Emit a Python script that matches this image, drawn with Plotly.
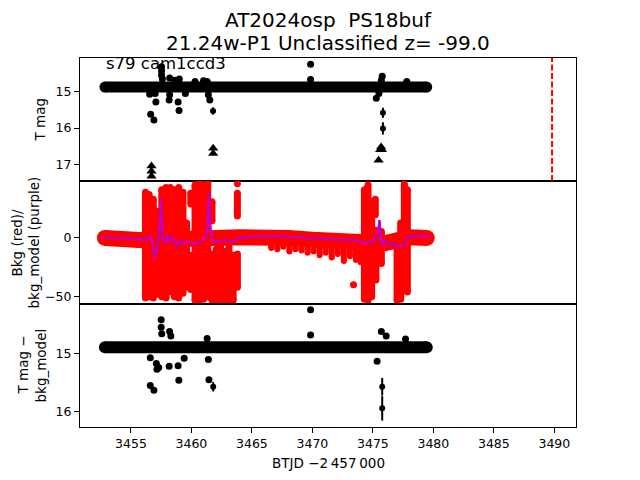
import plotly.graph_objects as go
from plotly.subplots import make_subplots

# ---------------- data ----------------
# top panel: T mag
band_t = [3452.85, 3454.0, 3455.5, 3456.5, 3457.5, 3458.5, 3459.5, 3460.5, 3461.5, 3462.5,
          3464.0, 3466.0, 3468.0, 3470.0, 3472.0, 3474.0, 3475.5, 3476.5, 3478.0, 3479.45]
band_mag = [14.87, 14.87, 14.87, 14.89, 14.86, 14.87, 14.87, 14.88, 14.87, 14.87,
            14.87, 14.88, 14.87, 14.87, 14.88, 14.87, 14.88, 14.87, 14.87, 14.87]

pt_t = [3456.55, 3456.63, 3456.9, 3457.06, 3457.0, 3457.53, 3457.53, 3457.53, 3457.6, 3458.2,
        3458.16, 3458.2, 3458.6, 3459.0, 3458.9, 3458.98, 3459.5, 3460.3, 3461.0, 3461.3,
        3461.4, 3461.52, 3469.85, 3469.85, 3475.28, 3475.77, 3475.7, 3475.5, 3477.8]
pt_mag = [15.07, 15.62, 15.78, 15.28, 15.05, 14.31, 14.42, 14.54, 14.65, 14.62,
          15.23, 15.08, 14.68, 14.65, 15.28, 15.52, 15.05, 14.72, 14.70, 14.72,
          15.08, 15.23, 14.24, 14.66, 15.18, 14.57, 14.68, 15.05, 14.72]

err_t = [3461.79, 3475.83, 3475.83]
err_mag = [15.53, 15.58, 16.01]
err_sig = [0.10, 0.14, 0.17]

lim_t = [3456.7, 3456.7, 3456.7, 3461.8, 3461.8, 3475.6, 3475.75, 3475.68, 3475.47]
lim_mag = [17.05, 17.19, 17.33, 16.56, 16.70, 16.60, 16.60, 16.52, 16.89]

disc_t = 3489.81

# middle panel: background
bkg_band_t = [3452.85, 3454.0, 3455.5, 3456.0, 3464.0, 3466.0, 3468.0, 3470.0, 3471.5,
              3473.0, 3474.2, 3476.0, 3478.0, 3479.45]
bkg_band_v = [-0.5, -1.0, -2.0, -2.5, 0.0, 0.5, -0.5, -2.0, -3.0,
              -4.0, -5.0, -5.0, 0.0, -0.5]

col_t = [3456.2, 3456.5, 3456.85, 3456.85, 3457.2, 3457.55, 3457.9, 3458.25, 3458.6, 3458.95,
         3459.3, 3459.6, 3459.95, 3459.95, 3460.3, 3460.65, 3461.0, 3461.35, 3461.7, 3461.7,
         3462.05, 3462.4, 3462.75, 3463.1, 3463.45, 3463.8, 3463.8,
         3474.3, 3474.6, 3474.9, 3475.2, 3475.25, 3475.7, 3477.0, 3477.3, 3477.6, 3477.85]
col_lo = [-51, -50, -51, 5, -48, -50, -51, -46, -50, -51,
          -47, -42, -44, 28, -53, -53, -52, -50, -53, 14,
          -53, -53, -53, -53, -53, -42, 18,
          -52, -53, -50, 19, -36, -22, -53, -52, -40, -46]
col_hi = [38, 36, -8, 32, 22, 40, 42, 42, 40, 42,
          38, 12, -15, 37, 44, 46, 44, 46, -14, 30,
          -10, -6, -12, -8, -15, -14, 37,
          40, 44, 30, 32, 6, 5, -2, 12, 45, 40]

low_t = [3466.6, 3467.1, 3467.6, 3468.1, 3468.6, 3469.1, 3469.6, 3470.1, 3470.6, 3471.1,
         3471.6, 3472.1, 3472.6, 3473.1, 3473.6, 3474.0]
low_lo = [-9, -10, -8, -12, -10, -11, -13, -12, -15, -13,
          -17, -14, -20, -16, -19, -21]
low_hi = [-5, -5, -5, -5, -5, -6, -6, -6, -7, -7,
          -7, -8, -8, -9, -9, -9]

dot_t = [3463.8, 3473.4]
dot_v = [45, -40]

model_t = [3452.6, 3454.92, 3456.29, 3456.57, 3456.84, 3456.98, 3457.17, 3457.34, 3457.48, 3457.61,
           3457.81, 3458.0, 3458.16, 3458.36, 3458.58, 3458.77, 3459.04, 3459.32, 3459.73, 3460.28,
           3460.83, 3461.3, 3461.44, 3461.58, 3461.8, 3462.21, 3462.9, 3463.45, 3463.86, 3464.82,
           3467.0, 3470.05, 3471.7, 3473.49, 3474.59, 3475.14, 3475.42, 3475.55, 3475.69, 3475.97,
           3476.24, 3476.65, 3477.07, 3477.62, 3477.84, 3478.58, 3479.7]
model_v = [0.0, -0.9, -2.3, 1.9, -7.9, -17.7, -7.9, 3.3, 32.8, 0.5,
           -5.1, 1.9, -3.7, 0.5, -3.7, -7.9, -2.3, -5.1, -3.7, -5.1,
           -3.7, 1.9, 37.0, 6.1, -3.7, -3.7, -2.3, -3.7, -0.9, 0.5,
           1.0, -0.9, -1.7, -2.3, -5.1, -2.3, 3.3, 14.6, -6.5, -2.3,
           -6.5, -5.1, -7.9, -6.5, 0.0, 1.1, 1.1]

# bottom panel: T mag - bkg_model
band2_t = [3452.85, 3454.0, 3455.5, 3456.5, 3457.5, 3458.5, 3459.5, 3460.5, 3461.5, 3462.5,
           3464.0, 3466.0, 3468.0, 3470.0, 3472.0, 3474.0, 3475.5, 3476.5, 3478.0, 3479.45]
band2_mag = [14.89, 14.89, 14.89, 14.91, 14.88, 14.89, 14.89, 14.90, 14.89, 14.89,
             14.89, 14.90, 14.89, 14.89, 14.90, 14.89, 14.90, 14.89, 14.89, 14.89]

pt2_t = [3469.85, 3469.85, 3457.5, 3457.5, 3457.55, 3458.2, 3458.3, 3475.7, 3476.1, 3461.3,
         3456.6, 3457.1, 3457.15, 3457.3, 3458.16, 3458.9, 3459.4, 3461.4, 3475.35, 3458.96,
         3456.6, 3456.9, 3461.45, 3477.7]
pt2_mag = [14.25, 14.68, 14.42, 14.55, 14.66, 14.62, 14.70, 14.62, 14.70, 14.74,
           15.07, 15.17, 15.27, 15.24, 15.22, 15.21, 15.08, 15.10, 15.13, 15.46,
           15.55, 15.63, 15.45, 14.75]

err2_t = [3461.8, 3475.77, 3475.77]
err2_mag = [15.57, 15.57, 15.94]
err2_sig = [0.08, 0.15, 0.21]

x_ticks = [3455, 3460, 3465, 3470, 3475, 3480, 3485, 3490]

# ---------------- figure ----------------
FONT = "DejaVu Sans"
fig = make_subplots(rows=3, cols=1, shared_xaxes=True, vertical_spacing=0)

def seg_xy(ts, los, his):
    xs, ys = [], []
    for t, lo, hi in zip(ts, los, his):
        xs += [t, t, None]
        ys += [lo, hi, None]
    return xs, ys

def end_sizes(n, s):
    return [s] + [0] * (n - 2) + [s]

NOLINE = dict(width=0)

# top
fig.add_trace(go.Scatter(x=band_t, y=band_mag, mode="lines+markers",
                         line=dict(color="black", width=11),
                         marker=dict(color="black", size=end_sizes(len(band_t), 11),
                                     opacity=1, line=NOLINE)),
              row=1, col=1)
fig.add_trace(go.Scatter(x=pt_t, y=pt_mag, mode="markers",
                         marker=dict(color="black", size=7, line=NOLINE)), row=1, col=1)
fig.add_trace(go.Scatter(x=err_t, y=err_mag, mode="markers",
                         marker=dict(color="black", size=6, line=NOLINE),
                         error_y=dict(type="data", array=err_sig, color="black",
                                      thickness=2, width=0)), row=1, col=1)
fig.add_trace(go.Scatter(x=lim_t, y=lim_mag, mode="markers",
                         marker=dict(color="black", size=9, symbol="triangle-up", line=NOLINE)),
              row=1, col=1)
fig.add_vline(x=disc_t, line=dict(color="red", width=2, dash="6px,2.5px"), row=1, col=1)

# middle
fig.add_trace(go.Scatter(x=bkg_band_t, y=bkg_band_v, mode="lines+markers",
                         line=dict(color="red", width=16),
                         marker=dict(color="red", size=end_sizes(len(bkg_band_t), 16),
                                     opacity=1, line=NOLINE)),
              row=2, col=1)
cx, cy = seg_xy(col_t, col_lo, col_hi)
fig.add_trace(go.Scatter(x=cx, y=cy, mode="lines+markers",
                         line=dict(color="red", width=7),
                         marker=dict(color="red", size=7, line=NOLINE)), row=2, col=1)
lx, ly = seg_xy(low_t, low_lo, low_hi)
fig.add_trace(go.Scatter(x=lx, y=ly, mode="lines+markers",
                         line=dict(color="red", width=6),
                         marker=dict(color="red", size=6, line=NOLINE)), row=2, col=1)
fig.add_trace(go.Scatter(x=dot_t, y=dot_v, mode="markers",
                         marker=dict(color="red", size=7, line=NOLINE)), row=2, col=1)
fig.add_trace(go.Scatter(x=model_t, y=model_v, mode="lines",
                         line=dict(color="#bf00bf", width=2.4)), row=2, col=1)

# bottom
fig.add_trace(go.Scatter(x=band2_t, y=band2_mag, mode="lines+markers",
                         line=dict(color="black", width=12),
                         marker=dict(color="black", size=end_sizes(len(band2_t), 12),
                                     opacity=1, line=NOLINE)),
              row=3, col=1)
fig.add_trace(go.Scatter(x=pt2_t, y=pt2_mag, mode="markers",
                         marker=dict(color="black", size=7, line=NOLINE)), row=3, col=1)
fig.add_trace(go.Scatter(x=err2_t, y=err2_mag, mode="markers",
                         marker=dict(color="black", size=6, line=NOLINE),
                         error_y=dict(type="data", array=err2_sig, color="black",
                                      thickness=2, width=0)), row=3, col=1)

axis_common = dict(showline=True, linecolor="black", linewidth=1, mirror=True,
                   showgrid=False, zeroline=False, ticks="outside", ticklen=5,
                   tickwidth=1, tickcolor="black", automargin=False,
                   tickfont=dict(family=FONT, size=12.5, color="black"))

xr = [3450.79, 3491.79]
fig.update_xaxes(range=xr, **axis_common)
fig.update_xaxes(showticklabels=False, ticks="", row=1, col=1)
fig.update_xaxes(showticklabels=False, ticks="", row=2, col=1)
fig.update_xaxes(tickvals=x_ticks, ticktext=[str(v) for v in x_ticks], row=3, col=1)

fig.update_yaxes(**axis_common)
fig.update_yaxes(range=[17.46, 14.07], tickvals=[15, 16, 17], ticktext=["15", "16", "17"],
                 row=1, col=1)
fig.update_yaxes(range=[-56.1, 47.4], tickvals=[-50, 0], ticktext=["\u221250", "0"],
                 row=2, col=1)
fig.update_yaxes(range=[16.26, 14.15], tickvals=[15, 16], ticktext=["15", "16"],
                 row=3, col=1)

ann = []
lab_font = dict(family=FONT, size=13.5, color="black")

def ylab(text, ycen, xpx):
    return dict(text=text, xref="paper", yref="paper", x=0, y=ycen,
                xshift=xpx - 80, textangle=-90, showarrow=False, font=lab_font,
                xanchor="center", yanchor="middle")

ann.append(ylab("T mag", 5 / 6, 40))
ann.append(ylab("Bkg (red)/", 0.5, 16))
ann.append(ylab("bkg_model (purple)", 0.5, 33))
ann.append(ylab("T mag \u2212", 1 / 6, 22))
ann.append(ylab("bkg_model", 1 / 6, 40))
ann.append(dict(text="BTJD \u22122\u2009457\u2009000", xref="paper", yref="paper",
                x=(328 - 80) / 496, y=(427 - 463) / 369, xanchor="center", yanchor="middle",
                showarrow=False, font=lab_font))
ann.append(dict(text="s79 cam1ccd3", xref="paper", yref="paper", x=(104 - 80) / 496,
                y=(427 - 64) / 369, xanchor="left", yanchor="middle", showarrow=False,
                font=dict(family=FONT, size=16.5, color="black")))
ann.append(dict(text="AT2024osp  PS18buf", xref="paper", yref="paper", x=(328 - 80) / 496,
                y=(427 - 20) / 369, xanchor="center", yanchor="middle", showarrow=False,
                font=dict(family=FONT, size=20, color="black")))
ann.append(dict(text="21.24w-P1 Unclassified z= -99.0", xref="paper", yref="paper",
                x=(328 - 80) / 496, y=(427 - 43) / 369, xanchor="center", yanchor="middle",
                showarrow=False, font=dict(family=FONT, size=20, color="black")))

# page body has an 8px margin: size the figure so the plot area lands at x 80-576, y 58-427
fig.update_layout(width=624, height=464, margin=dict(l=72, r=56, t=50, b=45, autoexpand=False),
                  paper_bgcolor="white", plot_bgcolor="white", showlegend=False,
                  annotations=ann, font=dict(family=FONT, color="black"))

fig.write_html("out.html")
